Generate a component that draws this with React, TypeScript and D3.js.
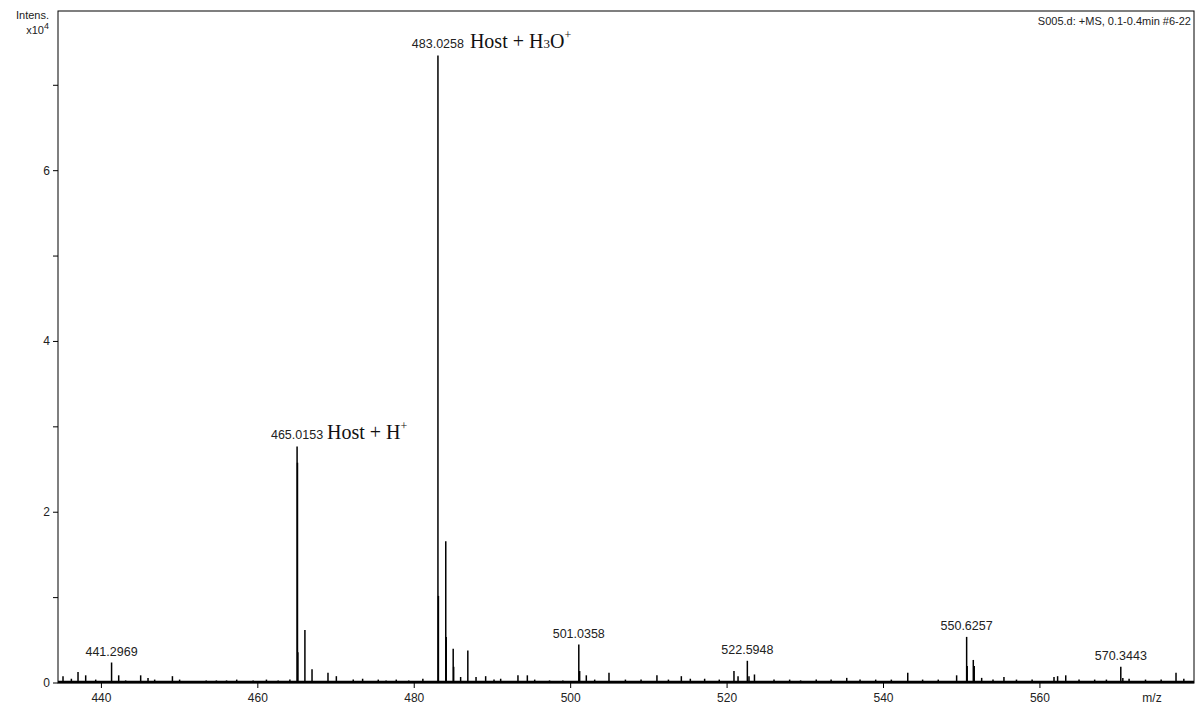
import React from 'react';
import * as d3 from 'd3';

// centroid sticks (m/z, intensity in 1e4 counts)
const peakMz = [
  435.09, 436.16, 437.01, 437.99, 439.27, 441.30, 442.21, 443.1, 445.02, 445.96, 446.81,
  449.08, 450.0, 453.4, 454.7, 456.0, 457.3, 459.4, 461.1, 462.6, 464.1,
  465.02, 465.07, 465.12, 466.02, 466.93, 468.97, 470.04, 472.2, 473.4, 475.4, 476.4, 477.7,
  479.3, 481.1, 483.03, 483.09, 484.03, 484.09, 484.98, 485.04, 485.93, 486.85, 487.9,
  489.13, 490.2, 491.05, 493.26, 494.46, 495.4, 497.3, 499.0, 501.04, 501.15, 502.0,
  503.07, 504.9, 507.0, 509.0, 511.03, 512.5, 514.15, 515.3, 517.13, 519.0, 520.88,
  521.4, 522.59, 522.8, 523.5, 526.0, 528.0, 529.4, 531.4, 533.3, 535.3, 537.0, 539.0,
  541.0, 543.1, 545.0, 547.0, 549.35, 550.63, 550.7, 551.48, 551.6, 552.55, 554.0, 555.4,
  557.0, 559.0, 561.8, 562.26, 563.3, 565.0, 567.0, 568.5, 570.34, 570.6, 571.4, 573.5,
  575.5, 577.4, 578.4,
];
const peakInt = [
  0.08, 0.05, 0.13, 0.09, 0.04, 0.24, 0.09, 0.03, 0.09, 0.06, 0.04,
  0.08, 0.04, 0.03, 0.03, 0.03, 0.04, 0.03, 0.04, 0.03, 0.04,
  2.77, 2.58, 0.36, 0.62, 0.16, 0.12, 0.08, 0.04, 0.05, 0.04, 0.03, 0.04,
  0.03, 0.05, 7.35, 1.02, 1.66, 0.54, 0.40, 0.19, 0.07, 0.38, 0.07,
  0.08, 0.04, 0.05, 0.09, 0.09, 0.04, 0.03, 0.03, 0.45, 0.14, 0.09,
  0.04, 0.12, 0.04, 0.04, 0.09, 0.04, 0.08, 0.05, 0.05, 0.04, 0.14,
  0.08, 0.26, 0.08, 0.10, 0.04, 0.04, 0.03, 0.04, 0.04, 0.06, 0.04, 0.04,
  0.04, 0.12, 0.04, 0.04, 0.09, 0.54, 0.20, 0.27, 0.20, 0.06, 0.04, 0.07,
  0.04, 0.04, 0.07, 0.08, 0.09, 0.04, 0.04, 0.04, 0.19, 0.06, 0.05, 0.04,
  0.04, 0.12, 0.05,
];

const labelMz = [441.2969, 465.0153, 483.0258, 501.0358, 522.5948, 550.6257, 570.3443];
const labelInt = [0.24, 2.77, 7.35, 0.45, 0.26, 0.54, 0.19];

const xTicks = [440, 460, 480, 500, 520, 540, 560];
const yTicks = [0, 1, 2, 3, 4, 5, 6, 7];

const W = 1198;
const H = 705;
const left = 58;
const right = 1194;
const top = 11;
const bottom = 683;

export default function App() {
  const x = d3.scaleLinear().domain([434.45, 579.7]).range([left, right]);
  const y = d3.scaleLinear().domain([0, 7.87]).range([bottom, top]);
  const sans = 'Arial, "Liberation Sans", sans-serif';
  const serif = '"Times New Roman", "Liberation Serif", serif';

  return (
    <svg width={W} height={H} style={{ position: 'absolute', left: 0, top: 0, background: '#fff' }}>
      {/* frame */}
      <rect x={left} y={top} width={right - left} height={bottom - top} fill="none" stroke="#000" strokeWidth={1} />

      {/* sticks */}
      <g stroke="#000" strokeWidth={1.5}>
        {peakMz.map((m, i) => (
          <line key={i} x1={x(m)} x2={x(m)} y1={y(0)} y2={y(peakInt[i])} />
        ))}
      </g>
      <line x1={left} x2={right} y1={bottom - 1} y2={bottom - 1} stroke="#000" strokeWidth={2.5} />

      {/* y axis */}
      <g fontFamily={sans} fontSize={12} fill="#222">
        {yTicks.map((t) => (
          <g key={t}>
            <line x1={left - 5} x2={left} y1={y(t)} y2={y(t)} stroke="#000" />
            {t % 2 === 0 && (
              <text x={left - 8} y={y(t) + 4} textAnchor="end">{t}</text>
            )}
          </g>
        ))}
        <text x={49} y={19} fontSize={11} textAnchor="end">Intens.</text>
        <text x={44} y={34} fontSize={11} textAnchor="end">x10</text>
        <text x={44} y={29} fontSize={9} textAnchor="start">4</text>
      </g>

      {/* x axis */}
      <g fontFamily={sans} fontSize={12} fill="#222">
        {xTicks.map((t) => (
          <g key={t}>
            <line x1={x(t)} x2={x(t)} y1={bottom} y2={bottom + 5} stroke="#000" />
            <text x={x(t)} y={702} textAnchor="middle">{t}</text>
          </g>
        ))}
        <text x={1152} y={702} textAnchor="middle">m/z</text>
      </g>

      <text x={1191} y={25} fontFamily={sans} fontSize={11} fill="#222" textAnchor="end">
        S005.d: +MS, 0.1-0.4min #6-22
      </text>

      {/* peak labels */}
      <g fontFamily={sans} fontSize={12.5} fill="#222">
        {labelMz.map((m, i) => (
          <text key={m} x={x(m)} y={y(labelInt[i]) - 7} textAnchor="middle">
            {m.toFixed(4)}
          </text>
        ))}
      </g>

      {/* assignments */}
      <text x={x(465.0153) + 30} y={y(2.77) - 7} fontFamily={serif} fontSize={20} fill="#111">
        Host + H<tspan dy={-9} fontSize={12}>+</tspan>
      </text>
      <text x={x(483.0258) + 32} y={y(7.35) - 7} fontFamily={serif} fontSize={20} fill="#111">
        Host + H<tspan fontSize={13}>3</tspan>O<tspan dy={-9} fontSize={12}>+</tspan>
      </text>
    </svg>
  );
}
